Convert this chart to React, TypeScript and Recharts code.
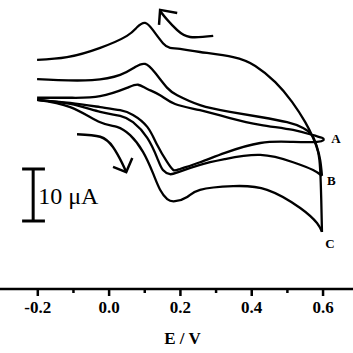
import { LineChart, Line, XAxis, YAxis, ReferenceLine, ReferenceDot } from "recharts";

type Pt = [number, number]; // [E in V, current in µA]

const xTicks = [-0.3, -0.2, -0.1, 0, 0.1, 0.2, 0.3, 0.4, 0.5, 0.6];

// curve A (smallest)
const aForward: Pt[] = [
  [-0.202, 5.8], [-0.109, 5.2], [-0.025, 4.4], [0.031, 3.8], [0.067, 2.9],
  [0.107, 0.6], [0.135, -2.9], [0.163, -6.2], [0.18, -7.7], [0.199, -7.5],
  [0.255, -6.2], [0.325, -4.4], [0.424, -2.5], [0.516, -2.3], [0.583, -2.3], [0.603, -1.9],
];
const aReverse: Pt[] = [
  [0.603, -1.9], [0.597, -1.5], [0.572, -1.0], [0.516, 0], [0.424, 1.0], [0.339, 2.3],
  [0.255, 3.8], [0.185, 5.0], [0.143, 6.7], [0.107, 7.9], [0.081, 8.7], [0.05, 8.1],
  [-0.025, 6.5], [-0.109, 6.2], [-0.202, 6.2],
];

// curve B
const bForward: Pt[] = [
  [-0.202, 5.8], [-0.109, 5.0], [-0.025, 3.5], [0.031, 2.7], [0.067, 1.5],
  [0.107, -1.5], [0.135, -5.4], [0.151, -7.7], [0.171, -8.5], [0.194, -8.1],
  [0.255, -6.7], [0.325, -5.6], [0.424, -4.8], [0.516, -6.2], [0.572, -7.7], [0.597, -8.8],
];
const bReverse: Pt[] = [
  [0.597, -8.8], [0.592, -5.8], [0.583, -3.3], [0.569, -1.0], [0.544, 0.4], [0.499, 1.5],
  [0.424, 2.5], [0.339, 3.5], [0.255, 4.8], [0.191, 6.7], [0.163, 8.1], [0.129, 11.0],
  [0.101, 12.7], [0.073, 12.1], [0.031, 10.6], [-0.048, 9.6], [-0.143, 9.6], [-0.202, 9.8],
];

// curve C (largest)
const cForward: Pt[] = [
  [-0.202, 5.8], [-0.109, 4.4], [-0.025, 1.5], [0.022, 0.6], [0.059, -1.0],
  [0.095, -4.2], [0.123, -8.3], [0.143, -11.5], [0.163, -13.3], [0.185, -13.7],
  [0.219, -12.9], [0.255, -11.5], [0.348, -10.8], [0.443, -11.5], [0.536, -15.0],
  [0.583, -17.9], [0.597, -19.6],
];
const cReverse: Pt[] = [
  [0.597, -19.6], [0.595, -13.5], [0.592, -7.7], [0.586, -4.2], [0.572, -1.5],
  [0.55, 1.5], [0.513, 5.4], [0.466, 9.2], [0.41, 12.3], [0.348, 14.0],
  [0.255, 15.0], [0.199, 15.6], [0.171, 15.8], [0.151, 16.7], [0.123, 19.2],
  [0.101, 20.6], [0.079, 19.8], [0.05, 18.1], [-0.025, 15.8], [-0.118, 14.0], [-0.202, 13.5],
];

// scan direction arrows
const arrowTop: Pt[] = [[0.292, 18.1], [0.227, 17.9], [0.191, 19.2], [0.163, 21.2], [0.143, 22.9]];
const arrowTopHead: Pt[] = [[0.14, 20.2], [0.143, 23.1], [0.191, 22.5]];
const arrowLow: Pt[] = [[-0.09, -0.8], [-0.025, -1.3], [0.011, -3.3], [0.036, -6.3], [0.048, -8.1]];
const arrowLowHead: Pt[] = [[0.011, -7.1], [0.048, -8.1], [0.065, -5.4]];

const curveLabels = [
  { text: "A", e: 0.623, i: -2.5 },
  { text: "B", e: 0.611, i: -10.6 },
  { text: "C", e: 0.606, i: -22.7 },
];

const toRows = (pts: Pt[]) => pts.map(([e, i]) => ({ e, i }));

const branches = [aForward, aReverse, bForward, bReverse, cForward, cReverse];
const arrows = [arrowTop, arrowTopHead, arrowLow, arrowLowHead];

const serif = '"Liberation Serif", "Times New Roman", serif';

const AxisTick = (props: any) => {
  const { x, y, payload } = props;
  const v = payload.value as number;
  const major = Math.abs(Math.round(v * 10)) % 2 === 0;
  return (
    <g>
      <line x1={x} y1={y} x2={x} y2={y + (major ? 7 : 4)} stroke="#000" strokeWidth={2.5} />
      {major && (
        <text x={x} y={y + 24} textAnchor="middle" fontFamily={serif} fontWeight="bold" fontSize={17} fill="#000">
          {v.toFixed(1)}
        </text>
      )}
    </g>
  );
};

export default function App() {
  return (
    <div style={{ position: "absolute", left: 0, top: 0, width: 353, height: 353, background: "#fff" }}>
      <LineChart width={353} height={353} margin={{ top: 0, right: 0, bottom: 0, left: 0 }}>
        <XAxis
          dataKey="e"
          type="number"
          domain={[-0.306, 0.684]}
          ticks={xTicks}
          allowDataOverflow
          height={64}
          tickSize={0}
          tickMargin={0}
          tickLine={false}
          axisLine={{ stroke: "#000", strokeWidth: 2.5 }}
          tick={<AxisTick />}
          label={{
            content: (p: any) => (
              <text
                x={p.viewBox.x + p.viewBox.width / 2 + 6}
                y={p.viewBox.y + 55}
                textAnchor="middle"
                fontFamily={serif}
                fontWeight="bold"
                fontSize={17}
                fill="#000"
              >
                E / V
              </text>
            ),
          }}
        />
        <YAxis hide type="number" domain={[-30.58, 25]} allowDataOverflow />

        {branches.map((pts, k) => (
          <Line
            key={k}
            data={toRows(pts)}
            dataKey="i"
            type="natural"
            stroke="#000"
            strokeWidth={2.3}
            dot={false}
            activeDot={false}
            legendType="none"
            isAnimationActive={false}
          />
        ))}

        {arrows.map((pts, k) => (
          <Line
            key={"arr" + k}
            data={toRows(pts)}
            dataKey="i"
            type={k % 2 === 0 ? "natural" : "linear"}
            stroke="#000"
            strokeWidth={2.5}
            dot={false}
            activeDot={false}
            legendType="none"
            isAnimationActive={false}
          />
        ))}

        {/* 10 µA scale bar */}
        <ReferenceLine segment={[{ x: -0.213, y: -7.5 }, { x: -0.213, y: -17.5 }]} stroke="#000" strokeWidth={3} />
        <ReferenceLine segment={[{ x: -0.244, y: -7.5 }, { x: -0.18, y: -7.5 }]} stroke="#000" strokeWidth={3} />
        <ReferenceLine segment={[{ x: -0.244, y: -17.5 }, { x: -0.18, y: -17.5 }]} stroke="#000" strokeWidth={3} />
        <ReferenceDot
          x={-0.199}
          y={-14.2}
          r={0}
          shape={(p: any) => (
            <text x={p.cx} y={p.cy} fontFamily={serif} fontSize={24} fill="#000">
              10 μA
            </text>
          )}
        />

        {curveLabels.map((l) => (
          <ReferenceDot
            key={l.text}
            x={l.e}
            y={l.i}
            r={0}
            shape={(p: any) => (
              <text x={p.cx} y={p.cy} fontFamily={serif} fontWeight="bold" fontSize={13} fill="#000">
                {l.text}
              </text>
            )}
          />
        ))}
      </LineChart>
    </div>
  );
}
